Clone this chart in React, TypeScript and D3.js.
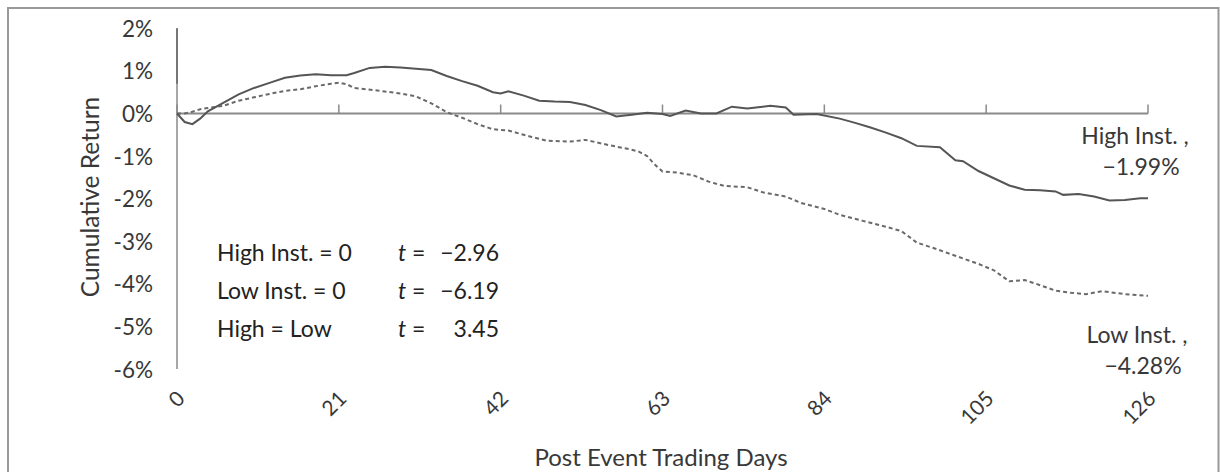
import React from "react";
import * as d3 from "d3";

const xTicks = [0, 21, 42, 63, 84, 105, 126];
const yTicks = [2, 1, 0, -1, -2, -3, -4, -5, -6];
const yTickLabels = ["2%", "1%", "0%", "-1%", "-2%", "-3%", "-4%", "-5%", "-6%"];

const highDays = [0, 1, 2, 3, 4, 5, 6, 8, 10, 12, 14, 16, 18, 20, 22, 23, 25, 27, 29, 31, 33, 35, 37, 39, 41, 42, 43, 45, 47, 49, 51, 53, 55, 57, 59, 61, 63, 64, 66, 68, 70, 72, 74, 76, 77, 79, 80, 83, 86, 88, 90, 92, 94, 96, 99, 101, 102, 104, 106, 108, 110, 112, 114, 115, 117, 119, 121, 123, 125, 126];
const highValues = [0, -0.2, -0.25, -0.12, 0.05, 0.15, 0.25, 0.45, 0.6, 0.72, 0.84, 0.89, 0.92, 0.9, 0.9, 0.95, 1.07, 1.1, 1.08, 1.05, 1.02, 0.88, 0.76, 0.65, 0.5, 0.47, 0.52, 0.42, 0.3, 0.28, 0.27, 0.2, 0.08, -0.07, -0.03, 0.02, -0.01, -0.06, 0.07, 0.0, 0.0, 0.16, 0.12, 0.16, 0.18, 0.14, -0.03, -0.01, -0.12, -0.22, -0.33, -0.45, -0.58, -0.76, -0.79, -1.1, -1.12, -1.35, -1.52, -1.69, -1.79, -1.8, -1.83, -1.91, -1.89, -1.95, -2.04, -2.03, -1.99, -1.99];

const lowDays = [0, 1, 2, 3, 4, 6, 8, 10, 12, 14, 16, 18, 20, 21, 22, 23, 26, 29, 31, 33, 35, 37, 39, 41, 43, 46, 48, 51, 53, 56, 59, 60, 61, 62, 63, 65, 67, 69, 71, 74, 76, 79, 81, 84, 86, 89, 92, 94, 96, 99, 101, 104, 106, 108, 110, 112, 114, 116, 118, 120, 123, 126];
const lowValues = [0, 0.0, 0.04, 0.1, 0.13, 0.18, 0.3, 0.38, 0.46, 0.53, 0.57, 0.64, 0.7, 0.72, 0.69, 0.6, 0.54, 0.47, 0.4, 0.24, 0.03, -0.1, -0.25, -0.37, -0.4, -0.55, -0.64, -0.66, -0.62, -0.74, -0.85, -0.9, -1.0, -1.2, -1.36, -1.39, -1.45, -1.6, -1.7, -1.73, -1.85, -1.95, -2.1, -2.24, -2.38, -2.52, -2.66, -2.76, -3.03, -3.21, -3.34, -3.53, -3.68, -3.94, -3.91, -4.03, -4.16, -4.21, -4.24, -4.17, -4.24, -4.28];

const statLabels = ["High Inst. = 0", "Low Inst. = 0", "High = Low"];
const statValues = ["\u22122.96", "\u22126.19", "3.45"];

const endLabels = [
  { name: "High Inst. ,", value: "\u22121.99%" },
  { name: "Low Inst. ,", value: "\u22124.28%" },
];

const FONT = "Lato, 'Open Sans', sans-serif";
const TEXT = "#383838";
const AXIS = "#8a8a8a";

export default function App() {
  const x = d3.scaleLinear().domain([0, 126]).range([177, 1148]);
  const y = d3.scaleLinear().domain([-6, 2]).range([369.1, 28.3]);

  const line = d3
    .line<[number, number]>()
    .x((d) => x(d[0]))
    .y((d) => y(d[1]));

  const highPts = highDays.map((d, i) => [d, highValues[i]] as [number, number]);
  const lowPts = lowDays.map((d, i) => [d, lowValues[i]] as [number, number]);

  return (
    <svg
      width={1220}
      height={472}
      style={{ position: "absolute", left: 0, top: 0, background: "#fff" }}
      fontFamily={FONT}
    >
      <rect x={8} y={8} width={1210.5} height={480} fill="#fff" stroke="#999" strokeWidth={2} />

      {/* y axis */}
      <line x1={x(0)} x2={x(0)} y1={y(2)} y2={y(-6)} stroke={AXIS} strokeWidth={1.5} />
      <line x1={x(0)} x2={x(0)} y1={y(2)} y2={y(0.7)} stroke="#666" strokeWidth={1.5} />
      {yTicks.map((t, i) => (
        <text
          key={t}
          x={153}
          y={y(t)}
          textAnchor="end"
          dominantBaseline="central"
          fontSize={22.5}
          fill={TEXT}
        >
          {yTickLabels[i]}
        </text>
      ))}
      <text
        transform={`translate(89,197) rotate(-90)`}
        textAnchor="middle"
        dominantBaseline="central"
        fontSize={24.5}
        fill={TEXT}
      >
        Cumulative Return
      </text>

      {/* x axis at zero */}
      <line x1={x(0)} x2={x(126)} y1={y(0)} y2={y(0)} stroke={AXIS} strokeWidth={2} />
      {xTicks.map((t) => (
        <line key={t} x1={x(t)} x2={x(t)} y1={y(0)} y2={y(0) - 9} stroke={AXIS} strokeWidth={1.5} />
      ))}
      {xTicks.map((t) => (
        <text
          key={t}
          transform={`translate(${x(t) + 9},${400}) rotate(-45)`}
          textAnchor="end"
          fontSize={21}
          fill={TEXT}
        >
          {t}
        </text>
      ))}
      <text x={661} y={456} textAnchor="middle" dominantBaseline="central" fontSize={24} fill={TEXT}>
        Post Event Trading Days
      </text>

      {/* series */}
      <path d={line(lowPts) || ""} fill="none" stroke="#6a6a6a" strokeWidth={2} strokeDasharray="4,3" />
      <path d={line(highPts) || ""} fill="none" stroke="#555" strokeWidth={2} />

      {/* stats */}
      {statLabels.map((s, i) => (
        <g key={s}>
          <text x={217} y={252 + i * 38} dominantBaseline="central" fontSize={23} fill="#222">
            {s}
          </text>
          <text x={398} y={252 + i * 38} dominantBaseline="central" fontSize={23} fill="#222">
            <tspan fontStyle="italic">t</tspan> =
          </text>
          <text x={499} y={252 + i * 38} textAnchor="end" dominantBaseline="central" fontSize={23} fill="#222">
            {statValues[i]}
          </text>
        </g>
      ))}

      {/* end labels */}
      <text x={1135} y={135} textAnchor="middle" dominantBaseline="central" fontSize={23} fill={TEXT}>
        {endLabels[0].name}
      </text>
      <text x={1141} y={166} textAnchor="middle" dominantBaseline="central" fontSize={23} fill={TEXT}>
        {endLabels[0].value}
      </text>
      <text x={1137} y={334} textAnchor="middle" dominantBaseline="central" fontSize={23} fill={TEXT}>
        {endLabels[1].name}
      </text>
      <text x={1143} y={365} textAnchor="middle" dominantBaseline="central" fontSize={23} fill={TEXT}>
        {endLabels[1].value}
      </text>
    </svg>
  );
}
